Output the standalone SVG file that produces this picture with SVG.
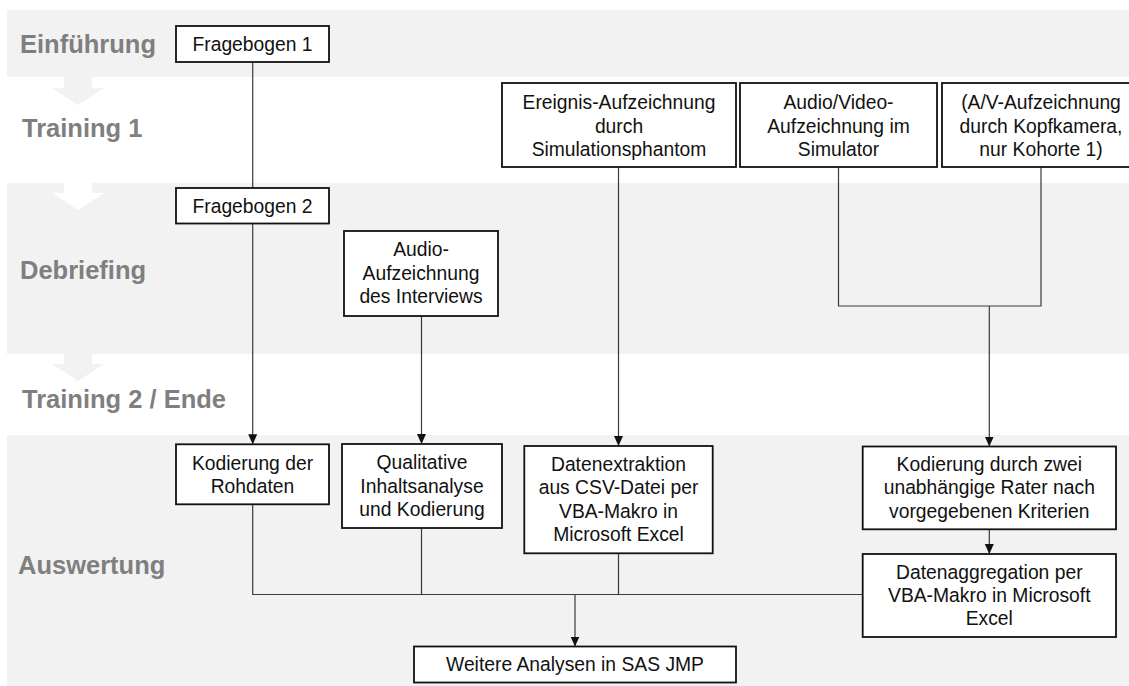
<svg xmlns="http://www.w3.org/2000/svg" width="1129" height="686" viewBox="0 0 1129 686">
<defs>
<style>
.band{fill:#f2f2f2}
.wband{fill:#ffffff}
.lbl{font-family:"Liberation Sans",Arial,sans-serif;font-weight:bold;font-size:25.5px;fill:#7f7f7f}
.box{fill:#ffffff;stroke:#111111;stroke-width:1.8}
.t{font-family:"Liberation Sans",Arial,sans-serif;font-size:19.3px;fill:#111111;text-anchor:middle}
.c{fill:none;stroke:#3a3a3a;stroke-width:1.2}
</style>
<marker id="ah" markerUnits="userSpaceOnUse" markerWidth="10" markerHeight="10" refX="10" refY="5" orient="auto">
<path d="M0,0.5 L10,5 L0,9.5 z" fill="#111111"/>
</marker>
</defs>
<rect width="1129" height="686" fill="#ffffff"/>
<g id="bands">
<rect class="band" x="7" y="10" width="1122" height="67"/>
<rect class="band" x="7" y="183" width="1122" height="171"/>
<rect class="band" x="7" y="435" width="1122" height="251"/>
<polygon class="band" points="64,77 92,77 92,88 104,88 78,105 52,88 64,88"/>
<polygon class="wband" points="64,183 92,183 92,193 104,193 78,210 52,193 64,193"/>
<polygon class="band" points="64,354 92,354 92,364 104,364 78,381 52,364 64,364"/>
</g>
<g id="labels">
<text class="lbl" x="20" y="53">Einführung</text>
<text class="lbl" x="22" y="137">Training 1</text>
<text class="lbl" x="20" y="279">Debriefing</text>
<text class="lbl" x="22" y="408">Training 2 / Ende</text>
<text class="lbl" x="18" y="574">Auswertung</text>
</g>
<g id="connectors">
<line class="c" x1="252.7" y1="62" x2="252.7" y2="188"/>
<line class="c" x1="252.7" y1="223.5" x2="252.7" y2="444.3" marker-end="url(#ah)"/>
<line class="c" x1="618.5" y1="167" x2="618.5" y2="446" marker-end="url(#ah)"/>
<line class="c" x1="421.5" y1="316" x2="421.5" y2="444" marker-end="url(#ah)"/>
<polyline class="c" points="838.5,167 838.5,306 1041,306 1041,167"/>
<line class="c" x1="989.3" y1="306" x2="989.3" y2="446.5" marker-end="url(#ah)"/>
<line class="c" x1="989.3" y1="529.3" x2="989.3" y2="554" marker-end="url(#ah)"/>
<polyline class="c" points="252.7,504.3 252.7,594.5 862.7,594.5"/>
<line class="c" x1="421.5" y1="528" x2="421.5" y2="594.5"/>
<line class="c" x1="618.5" y1="553.3" x2="618.5" y2="594.5"/>
<line class="c" x1="575" y1="594.5" x2="575" y2="646.5" marker-end="url(#ah)"/>
</g>
<g id="n-fragebogen1">
<rect class="box" x="176" y="26" width="153" height="36"/>
<text class="t" x="252.5" y="50.6">Fragebogen 1</text>
</g>
<g id="n-fragebogen2">
<rect class="box" x="176" y="188" width="153" height="35.5"/>
<text class="t" x="252.5" y="212.5">Fragebogen 2</text>
</g>
<g id="n-ereignis">
<rect class="box" x="502" y="83" width="234" height="84"/>
<text class="t" x="619" y="109.2">Ereignis-Aufzeichnung</text>
<text class="t" x="619" y="132.5">durch</text>
<text class="t" x="619" y="155.8">Simulationsphantom</text>
</g>
<g id="n-audiovideo">
<rect class="box" x="740" y="83" width="197" height="84"/>
<text class="t" x="838.5" y="109.2">Audio/Video-</text>
<text class="t" x="838.5" y="132.5">Aufzeichnung im</text>
<text class="t" x="838.5" y="155.8">Simulator</text>
</g>
<g id="n-kopfkamera">
<rect class="box" x="942" y="83" width="198" height="84"/>
<text class="t" x="1041" y="109.2">(A/V-Aufzeichnung</text>
<text class="t" x="1041" y="132.5">durch Kopfkamera,</text>
<text class="t" x="1041" y="155.8">nur Kohorte 1)</text>
</g>
<g id="n-interview">
<rect class="box" x="344" y="231" width="154" height="85"/>
<text class="t" x="421" y="256.2">Audio-</text>
<text class="t" x="421" y="279.5">Aufzeichnung</text>
<text class="t" x="421" y="302.8">des Interviews</text>
</g>
<g id="n-kodierung-rohdaten">
<rect class="box" x="176" y="444.3" width="153" height="60"/>
<text class="t" x="252.5" y="469.8">Kodierung der</text>
<text class="t" x="252.5" y="493.1">Rohdaten</text>
</g>
<g id="n-qualitativ">
<rect class="box" x="342" y="444" width="160" height="84"/>
<text class="t" x="422" y="469.2">Qualitative</text>
<text class="t" x="422" y="492.5">Inhaltsanalyse</text>
<text class="t" x="422" y="515.8">und Kodierung</text>
</g>
<g id="n-datenextraktion">
<rect class="box" x="524.3" y="446" width="188.4" height="107.3"/>
<text class="t" x="618.5" y="471">Datenextraktion</text>
<text class="t" x="618.5" y="494.3">aus CSV-Datei per</text>
<text class="t" x="618.5" y="517.6">VBA-Makro in</text>
<text class="t" x="618.5" y="540.9">Microsoft Excel</text>
</g>
<g id="n-rater">
<rect class="box" x="862.7" y="446.5" width="253.3" height="82.8"/>
<text class="t" x="989.3" y="471">Kodierung durch zwei</text>
<text class="t" x="989.3" y="494.3">unabhängige Rater nach</text>
<text class="t" x="989.3" y="517.6">vorgegebenen Kriterien</text>
</g>
<g id="n-aggregation">
<rect class="box" x="862.7" y="554" width="253.3" height="83"/>
<text class="t" x="989.3" y="578.6">Datenaggregation per</text>
<text class="t" x="989.3" y="601.9">VBA-Makro in Microsoft</text>
<text class="t" x="989.3" y="625.2">Excel</text>
</g>
<g id="n-sas">
<rect class="box" x="414" y="646.5" width="322" height="36"/>
<text class="t" x="575" y="671">Weitere Analysen in SAS JMP</text>
</g>
</svg>
